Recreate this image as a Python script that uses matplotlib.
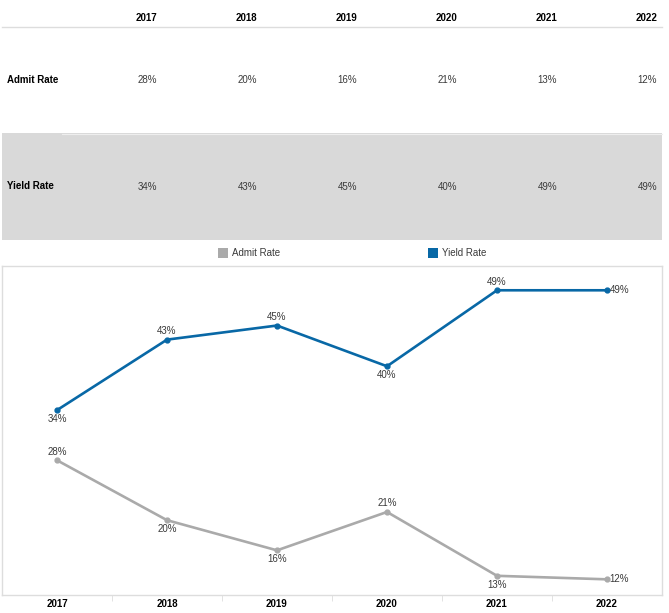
import matplotlib
matplotlib.use("Agg")
import matplotlib.pyplot as plt
from matplotlib.patches import Rectangle

plt.rcParams['font.family'] = ['Liberation Sans', 'DejaVu Sans']

# data (labels show rounded values)
years = ['2017', '2018', '2019', '2020', '2021', '2022']
admit_rate = [27.6, 19.95, 16.1, 21.0, 12.85, 12.4]
yield_rate = [34.0, 43.0, 44.8, 39.6, 49.3, 49.3]
series_names = ['Admit Rate', 'Yield Rate']
admit_pos = ['above', 'below', 'below', 'above', 'below', 'right']
yield_pos = ['below', 'above', 'above', 'below', 'above', 'right']

admit_color = '#aaaaaa'
yield_color = '#0868a6'
text_color = '#3a3a3a'

W, H = 669, 613
fig = plt.figure(figsize=(W / 100, H / 100), dpi=100)

# overlay axes in pixel coords for the table + legend
ov = fig.add_axes([0, 0, 1, 1])
ov.set_xlim(0, W)
ov.set_ylim(H, 0)
ov.axis('off')

# table
ov.add_patch(Rectangle((2, 133), 660, 107, color='#d9d9d9', lw=0))
ov.plot([2, 662], [27, 27], color='#dddddd', lw=1)
ov.plot([62, 662], [133.5, 133.5], color='#eeeeee', lw=0.8)
col_right = [157 + 100 * i for i in range(len(years))]
for i, yr in enumerate(years):
    ov.text(col_right[i], 18, yr, ha='right', va='center', fontsize=7,
            fontweight='bold', color='black')
    ov.text(col_right[i], 80, f'{round(admit_rate[i])}%', ha='right',
            va='center', fontsize=7, color=text_color)
    ov.text(col_right[i], 187, f'{round(yield_rate[i])}%', ha='right',
            va='center', fontsize=7, color=text_color)
ov.text(7, 80, series_names[0], ha='left', va='center', fontsize=7,
        fontweight='bold', color='black')
ov.text(7, 186, series_names[1], ha='left', va='center', fontsize=7,
        fontweight='bold', color='black')

# legend
for (lx, name, c) in [(218, series_names[0], admit_color),
                      (428, series_names[1], yield_color)]:
    ov.add_patch(Rectangle((lx, 248), 10, 10, color=c, lw=0))
    ov.text(lx + 14, 253, name, ha='left', va='center', fontsize=7,
            color=text_color)

# line chart
ax = fig.add_axes([2 / W, (H - 595) / H, 660 / W, (595 - 266) / H])
x = list(range(len(years)))
ax.plot(x, yield_rate, color=yield_color, lw=1.9, marker='o', ms=3.5)
ax.plot(x, admit_rate, color=admit_color, lw=1.9, marker='o', ms=3.5)
ax.set_xlim(-0.5, len(years) - 0.5)
ax.set_ylim(10.4, 52.4)


def label(xi, v, pos):
    t = f'{round(v)}%'
    if pos == 'above':
        ax.annotate(t, (xi, v), xytext=(0, 6.3), textcoords='offset points',
                    ha='center', va='center', fontsize=7, color=text_color)
    elif pos == 'below':
        ax.annotate(t, (xi, v), xytext=(0, -6.3), textcoords='offset points',
                    ha='center', va='center', fontsize=7, color=text_color)
    else:
        ax.annotate(t, (xi, v), xytext=(2, 0), textcoords='offset points',
                    ha='left', va='center', fontsize=7, color=text_color)


for i in x:
    label(i, yield_rate[i], yield_pos[i])
    label(i, admit_rate[i], admit_pos[i])

for s in ax.spines.values():
    s.set_color('#dddddd')
    s.set_linewidth(1)
ax.set_yticks([])
ax.set_xticks(x)
ax.set_xticklabels(years, fontsize=7, fontweight='bold', color='black')
ax.tick_params(axis='x', which='major', length=0, pad=3)
ax.set_xticks([i + 0.5 for i in x[:-1]], minor=True)
ax.tick_params(axis='x', which='minor', length=4, color='#dddddd')

fig.savefig('out.png', dpi=100)
